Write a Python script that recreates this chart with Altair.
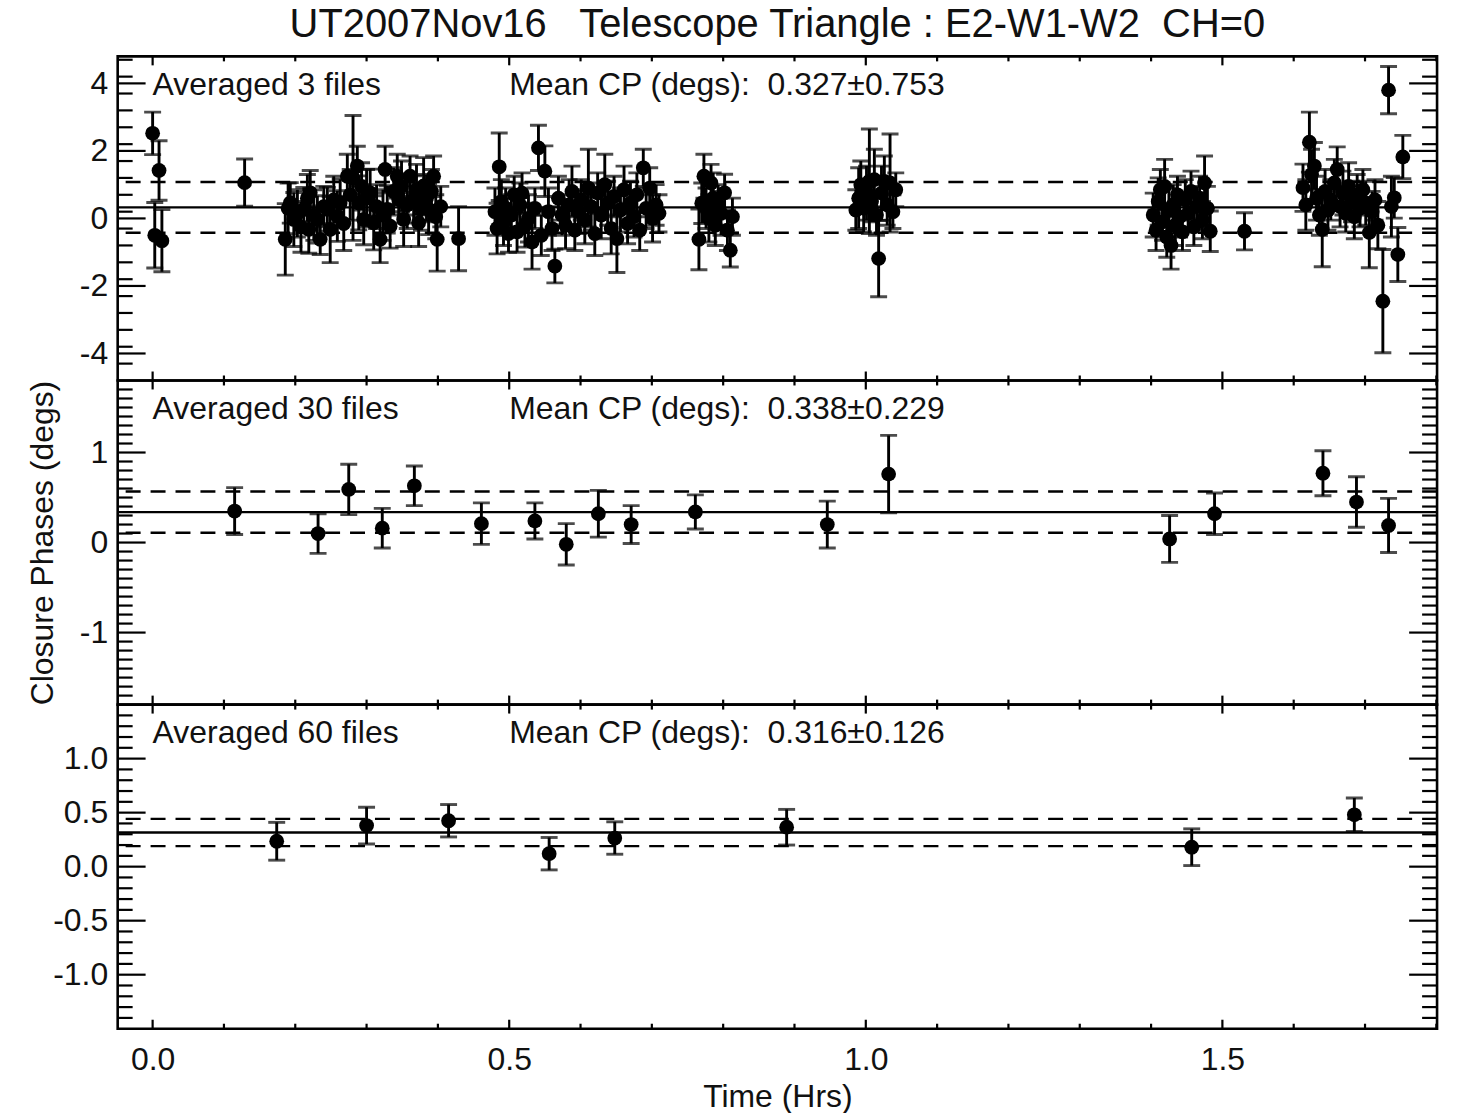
import altair as alt
import pandas as pd

FONT = "Liberation Sans"
INK = "#111111"
W = 1323
H = 325
FS = 32

TITLE = "UT2007Nov16\u00a0\u00a0 Telescope Triangle : E2-W1-W2\u00a0 CH=0"
X_TITLE = "Time (Hrs)"
Y_TITLE = "Closure Phases (degs)"

# ---------------- Panel 1 : averaged 3 files ----------------
P1_TIME = [
    0.000, 0.009, 0.003, 0.013, 0.129,
    0.186, 0.190, 0.193, 0.198, 0.203, 0.208, 0.212, 0.217, 0.221, 0.219,
    0.226, 0.231, 0.235, 0.240, 0.245, 0.249, 0.254, 0.259, 0.263, 0.268,
    0.273, 0.277, 0.281, 0.287, 0.289, 0.293, 0.296, 0.300, 0.305, 0.310,
    0.314, 0.319, 0.323, 0.326, 0.329, 0.333, 0.338, 0.343, 0.345, 0.349,
    0.352, 0.357, 0.361, 0.366, 0.370, 0.373, 0.377, 0.380, 0.384, 0.387,
    0.391, 0.394, 0.397, 0.399, 0.404, 0.429,
    0.480, 0.483, 0.486, 0.489, 0.492, 0.495, 0.499, 0.503, 0.507, 0.511,
    0.515, 0.518, 0.522, 0.527, 0.532, 0.536, 0.541, 0.545, 0.550, 0.555,
    0.560, 0.564, 0.569, 0.574, 0.579, 0.584, 0.588, 0.592, 0.597, 0.601,
    0.606, 0.611, 0.615, 0.620, 0.624, 0.629, 0.634, 0.638, 0.643, 0.647,
    0.651, 0.656, 0.661, 0.666, 0.670, 0.675, 0.679, 0.683, 0.688, 0.692,
    0.697, 0.701, 0.706, 0.710,
    0.766, 0.770, 0.773, 0.776, 0.780, 0.783, 0.786, 0.789, 0.793, 0.797,
    0.802, 0.806, 0.810, 0.813,
    0.986, 0.990, 0.993, 0.997, 1.001, 1.005, 1.008, 1.012, 1.015, 1.018,
    1.022, 1.026, 1.030, 1.034, 1.038, 1.042,
    1.403, 1.407, 1.410, 1.413, 1.416, 1.419, 1.422, 1.425, 1.428, 1.431,
    1.434, 1.437, 1.440, 1.444, 1.448, 1.452, 1.456, 1.460, 1.464, 1.468,
    1.472, 1.475, 1.479, 1.483, 1.531,
    1.613, 1.617, 1.622, 1.625, 1.629, 1.632, 1.636, 1.640, 1.644, 1.648,
    1.652, 1.657, 1.661, 1.665, 1.669, 1.673, 1.677, 1.681, 1.685, 1.689,
    1.693, 1.697, 1.701, 1.706, 1.710, 1.714, 1.718, 1.725, 1.733, 1.737,
    1.741, 1.746, 1.753,
]
P1_CP = [
    2.52, 1.42, -0.50, -0.66, 1.06,
    -0.62, 0.30, 0.46, -0.03, 0.15, -0.25, 0.27, 0.60, 0.76, -0.33,
    0.10, -0.03, -0.62, 0.35, 0.27, -0.33, 0.55, 0.07, 0.46, -0.15,
    1.25, 0.70, 1.20, 1.55, 0.46, 0.95, -0.03, 0.60, 0.76, -0.13,
    0.35, -0.62, 0.10, 1.45, 0.27, -0.23, 0.80, 1.25, 0.56, 0.95,
    -0.03, 0.40, 1.25, 0.56, 0.85, -0.13, 0.30, 0.96, 0.60, 0.27,
    0.80, 1.25, 0.05, -0.62, 0.35, -0.60,
    0.20, -0.30, 1.53, 0.50, -0.10, 0.30, -0.45, 0.10, 0.70, -0.40,
    0.40, 0.75, -0.20, 0.00, -0.70, 0.30, 2.09, -0.50, 1.40, 0.20,
    -0.30, -1.41, 0.60, 0.10, -0.20, 0.40, 0.80, -0.35, 0.20, 0.55,
    -0.05, 0.90, 0.35, -0.45, 0.75, 0.10, 1.00, 0.45, -0.30, 0.65,
    -0.60, 0.25, 0.85, -0.15, 0.45, 0.05, 0.70, -0.35, 1.50, 0.30,
    0.90, 0.00, 0.40, 0.15,
    -0.62, 0.45, 1.25, 0.30, 0.00, 1.05, 0.60, -0.20, 0.40, 0.15,
    0.76, -0.35, -0.94, 0.05,
    0.25, 0.60, 1.00, 0.30, 0.75, 1.10, 0.50, 1.15, 0.10, -1.19,
    0.75, 1.10, 0.40, 1.05, 0.20, 0.85,
    0.10, -0.35, 0.50, 0.85, -0.10, 0.95, -0.55, 0.25, -0.80, 0.40,
    -0.20, 0.70, 0.05, -0.40, 0.55, 0.15, 0.80, -0.25, 0.35, 0.60,
    -0.05, 1.05, 0.30, -0.38, -0.38,
    0.91, 0.40, 2.26, 1.30, 1.55, 0.60, 0.10, -0.33, 0.80, 0.25,
    0.55, 1.05, 1.45, 0.35, 0.75, 0.15, 0.95, 0.50, 0.05, 0.70,
    0.30, 0.85, 0.45, -0.42, 0.20, 0.55, -0.20, -2.45, 3.80, 0.35,
    0.61, -1.07, 1.82,
]
P1_ERR = [
    0.63, 0.88, 0.97, 0.92, 0.70,
    1.06, 0.75, 0.60, 0.80, 0.70, 0.75, 0.65, 0.70, 0.66, 0.70,
    0.75, 0.70, 0.45, 0.60, 0.65, 0.98, 0.70, 0.75, 0.70, 0.80,
    0.65, 0.75, 1.85, 0.59, 0.80, 0.70, 0.75, 0.85, 0.70, 0.80,
    0.65, 0.69, 0.75, 0.69, 0.70, 0.65, 0.70, 0.65, 0.70, 0.75,
    0.80, 0.70, 0.60, 0.70, 0.75, 0.70, 0.65, 0.84, 0.70, 0.75,
    0.65, 0.60, 0.65, 0.94, 0.60, 0.95,
    0.70, 0.75, 1.00, 0.65, 0.70, 0.60, 0.55, 0.60, 0.55, 0.60,
    0.65, 0.60, 0.65, 0.70, 0.80, 0.60, 0.67, 0.60, 0.75, 0.70,
    0.65, 0.50, 0.65, 0.60, 0.70, 0.75, 0.75, 0.60, 0.65, 0.60,
    0.70, 1.15, 0.70, 0.65, 0.60, 0.70, 0.90, 0.65, 0.75, 0.60,
    1.00, 0.65, 0.70, 0.60, 0.65, 0.60, 0.65, 0.60, 0.55, 0.60,
    0.60, 0.70, 0.60, 0.55,
    0.90, 0.60, 0.65, 0.60, 0.70, 0.55, 0.75, 0.60, 0.60, 0.65,
    0.55, 0.60, 0.50, 0.55,
    0.60, 0.90, 0.70, 0.70, 0.80, 1.55, 0.60, 0.90, 0.60, 1.13,
    0.80, 0.75, 0.60, 1.45, 0.50, 0.50,
    0.65, 0.60, 0.70, 0.60, 0.55, 0.80, 0.60, 0.65, 0.70, 0.60,
    0.60, 0.55, 0.60, 0.55, 0.60, 0.55, 0.60, 0.55, 0.60, 0.65,
    0.55, 0.80, 0.65, 0.60, 0.55,
    0.70, 0.75, 0.89, 0.75, 0.70, 0.65, 0.60, 1.10, 0.65, 0.60,
    0.60, 0.70, 0.67, 0.60, 0.65, 0.55, 0.70, 0.60, 0.65, 0.60,
    0.55, 0.60, 0.65, 1.04, 0.60, 0.60, 0.70, 1.53, 0.70, 0.90,
    0.60, 0.80, 0.64,
]

# ---------------- Panel 2 : averaged 30 files ----------------
P2_TIME = [0.115, 0.232, 0.275, 0.322, 0.367, 0.461, 0.536, 0.580, 0.625,
           0.671, 0.761, 0.946, 1.032, 1.426, 1.489, 1.641, 1.688, 1.733]
P2_CP = [0.35, 0.10, 0.59, 0.16, 0.63, 0.21, 0.24, -0.02, 0.32,
         0.20, 0.34, 0.20, 0.76, 0.04, 0.32, 0.77, 0.45, 0.19]
P2_ERR = [0.26, 0.22, 0.28, 0.22, 0.22, 0.23, 0.20, 0.23, 0.26,
          0.21, 0.19, 0.26, 0.43, 0.26, 0.23, 0.25, 0.28, 0.30]

# ---------------- Panel 3 : averaged 60 files ----------------
P3_TIME = [0.174, 0.300, 0.415, 0.556, 0.648, 0.889, 1.457, 1.685]
P3_CP = [0.235, 0.38, 0.425, 0.12, 0.265, 0.365, 0.18, 0.48]
P3_ERR = [0.175, 0.17, 0.15, 0.15, 0.15, 0.165, 0.17, 0.155]

LEFT_TEXT = ["Averaged 3 files", "Averaged 30 files", "Averaged 60 files"]
RIGHT_TEXT = ["Mean CP (degs):\u00a0 0.327\u00b10.753",
              "Mean CP (degs):\u00a0 0.338\u00b10.229",
              "Mean CP (degs):\u00a0 0.316\u00b10.126"]
MEAN_CP = [0.327, 0.338, 0.316]
SIGMA_CP = [0.753, 0.229, 0.126]
TEXT_T = [0.0, 0.5]

Y_DOMAINS = [[-4.8, 4.8], [-1.8, 1.8], [-1.5, 1.5]]
Y_MAJOR = [[-4, -2, 0, 2, 4], [-1, 0, 1], [-1.0, -0.5, 0.0, 0.5, 1.0]]
Y_MINOR_STEP = [0.5, 0.1, 0.1]
Y_FORMAT = ["d", "d", ".1f"]
X_DOMAIN = [-0.049, 1.801]
X_MAJOR = [0.0, 0.5, 1.0, 1.5]
X_MINOR = [0.1, 0.2, 0.3, 0.4, 0.6, 0.7, 0.8, 0.9, 1.1, 1.2, 1.3, 1.4, 1.6, 1.7, 1.8]

assert len(P1_TIME) == len(P1_CP) == len(P1_ERR)

x_scale = alt.Scale(domain=X_DOMAIN, nice=False, zero=False)


def minor_ticks(dom, step, major):
    n = int(round((dom[1] - dom[0]) / step))
    vals = [round(dom[0] + i * step, 3) for i in range(n + 1)]
    return [v for v in vals if dom[0] < v < dom[1] and all(abs(v - m) > 1e-6 for m in major)]


def panel(i, t, cp, err, bottom=False, ytitle=False, title=False):
    df = pd.DataFrame({"t": t, "cp": cp,
                       "lo": [c - e for c, e in zip(cp, err)],
                       "hi": [c + e for c, e in zip(cp, err)]})
    caps = pd.DataFrame({"t": list(t) * 2, "cp": list(df["lo"]) + list(df["hi"])})
    ys = alt.Scale(domain=Y_DOMAINS[i], nice=False, zero=False)
    fmt = Y_FORMAT[i]
    label_expr = f"(datum.value < 0 ? '-' : '') + format(abs(datum.value), '{fmt}')"
    yaxis = alt.Axis(values=Y_MAJOR[i], ticks=False, domain=False, grid=False,
                     labelExpr=label_expr, labelFontSize=FS, labelFont=FONT,
                     labelColor=INK, labelPadding=10,
                     title=(Y_TITLE if ytitle else None), titleFontSize=FS,
                     titleFont=FONT, titleFontWeight="normal", titleColor=INK,
                     titlePadding=20)
    if bottom:
        xaxis = alt.Axis(values=X_MAJOR, format=".1f", ticks=False, domain=False,
                         grid=False, labelFontSize=FS, labelFont=FONT, labelColor=INK,
                         labelPadding=16, title=X_TITLE, titleFontSize=FS, titleFont=FONT,
                         titleFontWeight="normal", titleColor=INK, titlePadding=6)
    else:
        xaxis = None

    def X(f):
        return alt.X(f, scale=x_scale, axis=xaxis)

    def Y(f):
        return alt.Y(f, scale=ys, axis=yaxis)

    points = alt.Chart(df).mark_circle(size=220, color="black", opacity=1, clip=True).encode(
        x=X("t:Q"), y=Y("cp:Q"))
    bars = alt.Chart(df).mark_rule(color="black", strokeWidth=2.9, clip=True).encode(
        x=X("t:Q"), y=Y("lo:Q"), y2="hi:Q")
    capm = alt.Chart(caps).mark_tick(color="black", orient="horizontal", size=17,
                                      thickness=2.9, clip=True).encode(
        x=X("t:Q"), y=Y("cp:Q"))

    lines = pd.DataFrame({"cp": [MEAN_CP[i]]})
    dashes = pd.DataFrame({"cp": [MEAN_CP[i] - SIGMA_CP[i], MEAN_CP[i] + SIGMA_CP[i]]})
    mean_rule = alt.Chart(lines).mark_rule(color="black", strokeWidth=2.4).encode(y=Y("cp:Q"))
    dash_rule = alt.Chart(dashes).mark_rule(color="black", strokeWidth=2.4,
                                            strokeDash=[15, 10]).encode(y=Y("cp:Q"))

    ymaj = pd.DataFrame({"cp": Y_MAJOR[i]})
    ymin = pd.DataFrame({"cp": minor_ticks(Y_DOMAINS[i], Y_MINOR_STEP[i], Y_MAJOR[i])})
    xmaj = pd.DataFrame({"t": X_MAJOR})
    xmin = pd.DataFrame({"t": X_MINOR})

    def yticks(d, length):
        left = alt.Chart(d).mark_rule(color="black", strokeWidth=2.2).encode(
            y=Y("cp:Q"), x=alt.value(0), x2=alt.value(length))
        right = alt.Chart(d).mark_rule(color="black", strokeWidth=2.2).encode(
            y=Y("cp:Q"), x=alt.value(W), x2=alt.value(W - length))
        return [left, right]

    def xticks(d, length):
        top = alt.Chart(d).mark_rule(color="black", strokeWidth=2.2).encode(
            x=X("t:Q"), y=alt.value(0), y2=alt.value(length))
        bot = alt.Chart(d).mark_rule(color="black", strokeWidth=2.2).encode(
            x=X("t:Q"), y=alt.value(H), y2=alt.value(H - length))
        return [top, bot]

    texts = pd.DataFrame({"t": TEXT_T, "label": [LEFT_TEXT[i], RIGHT_TEXT[i]]})
    text_layer = alt.Chart(texts).mark_text(align="left", baseline="alphabetic", fontSize=FS,
                                            font=FONT, color=INK).encode(
        x=X("t:Q"), y=alt.value(39), text="label:N")

    layers = ([points, mean_rule, dash_rule] + yticks(ymaj, 28) + yticks(ymin, 15)
              + xticks(xmaj, 9) + xticks(xmin, 5) + [bars, capm, text_layer])
    ch = alt.layer(*layers).properties(width=W, height=H)
    if title:
        ch = ch.properties(title=alt.TitleParams(TITLE, fontSize=40, font=FONT,
                                                 fontWeight="normal", color=INK,
                                                 anchor="middle", frame="group",
                                                 offset=10))
    return ch


chart = alt.vconcat(
    panel(0, P1_TIME, P1_CP, P1_ERR, title=True),
    panel(1, P2_TIME, P2_CP, P2_ERR, ytitle=True),
    panel(2, P3_TIME, P3_CP, P3_ERR, bottom=True),
    spacing=0,
    bounds="flush",
).properties(
    padding={"left": 25, "top": 2, "right": 18, "bottom": 0},
    background="white",
).configure(font=FONT).configure_view(
    stroke="black", strokeWidth=2.6
)

chart.save("out.html", embed_options={"renderer": "svg", "actions": False})
